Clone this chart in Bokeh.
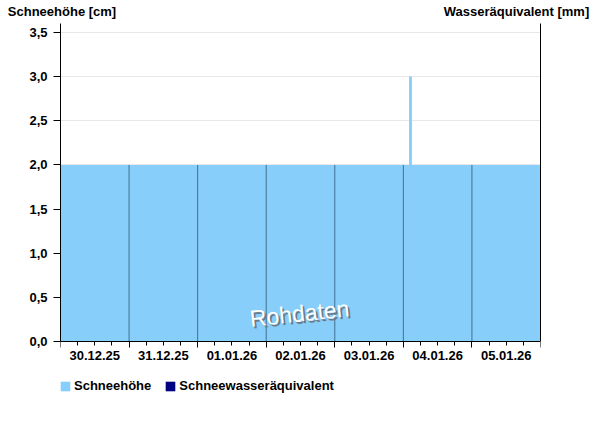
import numpy as np
import pandas as pd
from bokeh.plotting import figure
from bokeh.models import (Range1d, FixedTicker, LinearAxis, DatetimeAxis, Label,
                          Legend, LegendItem)
from bokeh.embed import file_html
from bokeh.resources import INLINE

# ---- data ----
day_labels = ["30.12.25", "31.12.25", "01.01.26", "02.01.26", "03.01.26", "04.01.26", "05.01.26"]
day_starts = ["2025-12-30", "2025-12-31", "2026-01-01", "2026-01-02", "2026-01-03", "2026-01-04", "2026-01-05"]
range_end = "2026-01-06"

snow_times = ["2025-12-30 00:00", "2026-01-04 02:00", "2026-01-04 03:00", "2026-01-06 00:00"]
snow_depth = [2.0, 3.0, 2.0, 2.0]          # Schneehöhe [cm]

swe_times = ["2025-12-30 00:00"]           # Schneewasseräquivalent: no measured value
swe_values = [float("nan")]

y_ticks = [0.0, 0.5, 1.0, 1.5, 2.0, 2.5, 3.0, 3.5]
y_tick_labels = ["0,0", "0,5", "1,0", "1,5", "2,0", "2,5", "3,0", "3,5"]
y_max = 3.6

axis_titles = ["Schneehöhe [cm]", "Wasseräquivalent [mm]"]

FONT = "Liberation Sans"
HOUR = 3600 * 1000.0
W, H = 600, 426
FL, FR, FT = 60, 540, 22      # frame left/right/top in pixels
Y0 = 341                      # pixel row of value 0 (x axis)
FB = 396                      # frame bottom (frame also holds the legend)

px_per_unit = (Y0 - FT) / y_max
y_start = -(FB - Y0) / px_per_unit


def ms(s):
    return pd.Timestamp(s).value / 1e6


day_ms = [ms(d) for d in day_starts]
end_ms = ms(range_end)
snow_x = [ms(t) for t in snow_times]
swe_x = [ms(t) for t in swe_times]

midnights = day_ms + [end_ms]
quarter_ticks = [d + k * 6 * HOUR for d in day_ms for k in (1, 3)]
noons = [d + 12 * HOUR for d in day_ms]

p = figure(width=W, height=H,
           x_range=Range1d(day_ms[0], end_ms), y_range=Range1d(y_start, y_max),
           x_axis_type=None, output_backend="svg", toolbar_location=None,
           min_border_left=FL, min_border_right=W - FR, min_border_top=FT,
           min_border_bottom=H - FB)
p.outline_line_color = None
p.background_fill_color = "white"
p.border_fill_color = "white"

# y axis
ya = p.yaxis[0]
ya.ticker = FixedTicker(ticks=y_ticks)
ya.major_label_overrides = {t: l for t, l in zip(y_ticks, y_tick_labels)}
ya.bounds = (0, y_max)
ya.axis_line_color = "black"
ya.major_tick_line_color = "black"
ya.major_tick_out = 7
ya.major_tick_in = 0
ya.minor_tick_line_color = None
ya.major_label_standoff = 6
ya.major_label_text_font = FONT
ya.major_label_text_font_style = "bold"
ya.major_label_text_font_size = "13px"
ya.major_label_text_color = "black"
p.ygrid.grid_line_color = "#e8e8e8"

# glyphs
area = p.varea_step(x=snow_x, y1=[0] * len(snow_x), y2=snow_depth, step_mode="after",
                    fill_color="#87cefa")
bars = p.vbar(x=swe_x, top=swe_values, width=HOUR, fill_color="#000080", line_color=None)

bounds = np.array(day_ms[1:])
idx = np.searchsorted(np.array(snow_x), bounds, side="right") - 1
seg_top = [snow_depth[i] for i in idx]
p.segment(x0=list(bounds), y0=[0] * len(bounds), x1=list(bounds), y1=seg_top,
          line_color="#40708f", line_width=1)

# x axis: longer day-boundary ticks (no labels)
axA = DatetimeAxis(ticker=FixedTicker(ticks=[], minor_ticks=midnights),
                   major_tick_out=0, major_tick_in=0, minor_tick_out=6, minor_tick_in=0,
                   minor_tick_line_color="black", axis_line_color=None,
                   major_label_standoff=0, fixed_location=0)
# x axis: day labels and 6-hour ticks
axB = DatetimeAxis(ticker=FixedTicker(ticks=noons, minor_ticks=quarter_ticks),
                   major_label_overrides={n: l for n, l in zip(noons, day_labels)},
                   axis_line_color="black", major_tick_line_color="black",
                   minor_tick_line_color="black",
                   major_tick_out=4, major_tick_in=0, minor_tick_out=4, minor_tick_in=0,
                   major_label_standoff=5, fixed_location=0,
                   major_label_text_font=FONT, major_label_text_font_style="bold",
                   major_label_text_font_size="13px", major_label_text_color="black")
p.add_layout(axA, "below")
p.add_layout(axB, "below")

# right axis (line only)
ra = LinearAxis(ticker=FixedTicker(ticks=[]), axis_line_color="black", bounds=(0, y_max),
                major_tick_line_color=None, minor_tick_line_color=None,
                major_label_standoff=0)
p.add_layout(ra, "right")

# header: the two axis titles, carried by an invisible top axis
span = end_ms - day_ms[0]
def px_to_x(px):
    return day_ms[0] + (px - FL) / (FR - FL) * span
title_pos = [px_to_x(61.5), px_to_x(516)]
ta = DatetimeAxis(ticker=FixedTicker(ticks=title_pos),
                  major_label_overrides={t: s for t, s in zip(title_pos, axis_titles)},
                  axis_line_color=None, major_tick_line_color=None, minor_tick_line_color=None,
                  major_tick_out=0, major_tick_in=0, major_label_standoff=5,
                  major_label_text_font=FONT, major_label_text_font_style="bold",
                  major_label_text_font_size="13px", major_label_text_color="black")
p.add_layout(ta, "above")

# watermark (screen units relative to the frame's bottom-left corner)
wx, wy = 239, FB - 313
p.add_layout(Label(x=wx + 2, y=wy - 2, x_units="screen", y_units="screen", text="Rohdaten",
                   text_baseline="middle", text_align="center", angle=6, angle_units="deg",
                   text_font=FONT, text_font_size="23px", text_color="#6a7a88"))
p.add_layout(Label(x=wx, y=wy, x_units="screen", y_units="screen", text="Rohdaten",
                   text_baseline="middle", text_align="center", angle=6, angle_units="deg",
                   text_font=FONT, text_font_size="23px", text_color="white"))

legend = Legend(items=[LegendItem(label="Schneehöhe", renderers=[area]),
                       LegendItem(label="Schneewasseräquivalent", renderers=[bars])],
                orientation="horizontal", location=(-1, 3),
                glyph_width=12, glyph_height=12, label_standoff=3, spacing=13,
                padding=0, margin=0, border_line_color=None, background_fill_alpha=0,
                label_text_font=FONT, label_text_font_style="bold",
                label_text_font_size="13px", label_text_color="black", label_height=12)
p.add_layout(legend, "center")

open("out.html", "w").write(file_html(p, INLINE))
